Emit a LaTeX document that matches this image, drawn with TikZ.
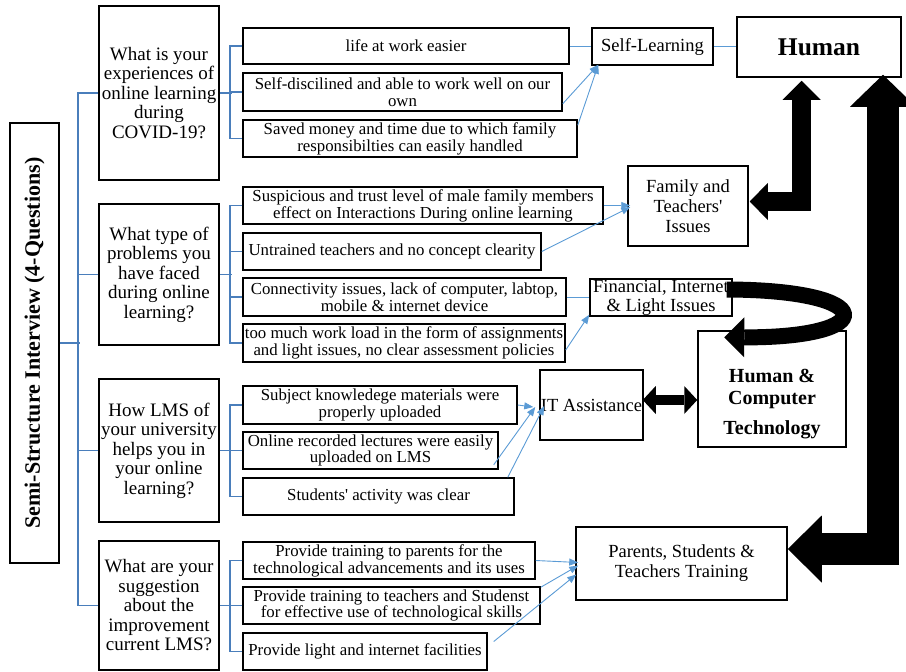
\documentclass[tikz,border=0pt]{standalone}
\usepackage{fontspec}
\setmainfont{Liberation Serif}
\usetikzlibrary{arrows.meta}
\definecolor{treeblue}{RGB}{74,126,187}
\definecolor{linkblue}{RGB}{91,155,213}
\begin{document}
\begin{tikzpicture}[x=1pt,y=-1pt,
  box/.style={draw=black, line width=1.5pt, inner sep=0pt, align=center, text=black},
  qbox/.style={box, font=\fontsize{19}{19.5}\selectfont},
  abox/.style={box, font=\fontsize{16.8}{16.8}\selectfont},
  cbox/.style={box, font=\fontsize{18.5}{20}\selectfont},
  tree/.style={draw=treeblue, line width=1.6pt},
  link/.style={draw=linkblue, line width=0.9pt},
  linkarr/.style={link, -{Triangle[length=9pt,width=7pt]}},
  bigarr/.style={draw=black, line join=miter, line cap=butt}
]
\useasboundingbox (0,0) rectangle (906,672);

% title
\node[box, minimum width=49pt, minimum height=440pt] (title) at (34.5,343) {};
\node[rotate=90, font=\bfseries\fontsize{22}{24}\selectfont] (titletext) at (title.center) {Semi-Structure Interview (4-Questions)};

% questions
\node[qbox, minimum width=120pt, minimum height=174pt] (Q1) at (159,93) {What is your\\experiences of\\online learning\\during\\COVID-19?};
\node[qbox, minimum width=120pt, minimum height=141pt] (Q2) at (159,274.5) {What type of\\problems you\\have faced\\during online\\learning?};
\node[qbox, minimum width=120pt, minimum height=143pt] (Q3) at (159,450.5) {How LMS of\\your university\\helps you in\\your online\\learning?};
\node[qbox, minimum width=120pt, minimum height=129pt] (Q4) at (159,605.5) {What are your\\suggestion\\about the\\improvement\\current LMS?};

% answers
\node[abox, minimum width=326pt, minimum height=36pt] (A1) at (406,46) {life at work easier};
\node[abox, minimum width=319pt, minimum height=38pt] (A2) at (402.5,92) {Self-discilined and able to work well on our\\own};
\node[abox, minimum width=334pt, minimum height=37pt] (A3) at (410,138.5) {Saved money and time due to which family\\responsibilties can easily handled};
\node[abox, minimum width=360pt, minimum height=37pt] (B1) at (423,205.5) {Suspicious and trust level of male family members\\effect on Interactions During online learning};
\node[abox, minimum width=298pt, minimum height=37pt] (B2) at (392,251.5) {Untrained teachers and no concept clearity};
\node[abox, minimum width=323pt, minimum height=38pt] (B3) at (404.5,297) {Connectivity issues, lack of computer, labtop,\\mobile \& internet device};
\node[abox, minimum width=322pt, minimum height=38pt] (B4) at (404,343) {too much work load in the form of assignments\\and light issues, no clear assessment policies};
\node[abox, minimum width=274pt, minimum height=38pt] (C1) at (380,405) {Subject knowledege materials were\\properly uploaded};
\node[abox, minimum width=255pt, minimum height=37pt] (C2) at (370.5,450.5) {Online recorded lectures were easily\\uploaded on LMS};
\node[abox, minimum width=271pt, minimum height=37pt] (C3) at (378.5,496.5) {Students\textquotesingle\ activity was clear};
\node[abox, minimum width=292pt, minimum height=37pt] (D1) at (389,560.5) {Provide training to parents for the\\technological advancements and its uses};
\node[abox, minimum width=297pt, minimum height=37pt] (D2) at (391.5,605.5) {Provide training to teachers and Studenst\\for effective use of technological skills};
\node[abox, minimum width=244pt, minimum height=37pt] (D3) at (365,651.5) {Provide light and internet facilities};

% categories
\node[cbox, minimum width=121pt, minimum height=37pt] (SL) at (652.5,46.5) {Self-Learning};
\node[box, minimum width=164pt, minimum height=60pt, font=\bfseries\fontsize{25.5}{27}\selectfont] (Human) at (819,47) {Human};
\node[cbox, minimum width=120pt, minimum height=80pt] (Fam) at (688,206) {Family and\\Teachers\textquotesingle\\Issues};
\node[cbox, minimum width=142pt, minimum height=37pt, font=\fontsize{18.5}{19}\selectfont] (Fin) at (661,297.5) {Financial, Internet\\\& Light Issues};
\node[cbox, minimum width=103pt, minimum height=70pt] (IT) at (591.5,405) {IT Assistance};
\node[box, minimum width=148pt, minimum height=116pt] (HCT) at (772,389) {};
\node[align=center, font=\bfseries\fontsize{20}{22}\selectfont] (HCTt) at (772,404) {Human \&\\Computer\\[8pt]Technology};
\node[cbox, minimum width=211pt, minimum height=73pt] (PST) at (681.5,563.5) {Parents, Students \&\\Teachers Training};

% main tree
\draw[tree] (title.east) -- ++(20,0);
\draw[tree] (Q1.west) -- ++(-20,0) |- (Q4.west);
\draw[tree] (Q2.west) -- ++(-20,0);
\draw[tree] (Q3.west) -- ++(-20,0);

% answer trees
\draw[tree] (Q1.east) -- ++(12,0);
\draw[tree] (A1.west) -- ++(-12,0) |- (A3.west);
\draw[tree] (A2.west) -- ++(-12,0);
\draw[tree] (Q2.east) -- ++(12,0);
\draw[tree] (B1.west) -- ++(-12,0) |- (B4.west);
\draw[tree] (B2.west) -- ++(-12,0);
\draw[tree] (B3.west) -- ++(-12,0);
\draw[tree] (Q3.east) -- ++(12,0);
\draw[tree] (C1.west) -- ++(-12,0) |- (C3.west);
\draw[tree] (C2.west) -- ++(-12,0);
\draw[tree] (Q4.east) -- ++(12,0);
\draw[tree] (D1.west) -- ++(-12,0) |- (D3.west);
\draw[tree] (D2.west) -- ++(-12,0);

% links to categories
\draw[link] (A1.east) -- (A1.east -| SL.west);
\draw[link] (SL.east) -- (SL.east -| Human.west);
\draw[linkarr] ([yshift=8pt]A2.south east) -- ([xshift=7pt,yshift=1pt]SL.south west);
\draw[linkarr] ([yshift=-6pt]A3.north east) -- ([xshift=7pt,yshift=1pt]SL.south west);
\draw[linkarr] (B1.east) -- ([xshift=3pt]B1.east -| Fam.west);
\draw[linkarr] (B2.east) -- ([xshift=3pt,yshift=-1pt]Fam.west);
\draw[link] (B3.east) -- (B3.east -| Fin.west);
\draw[linkarr] ([yshift=-7pt]B4.east) -- ([yshift=2pt]Fin.south west);
\draw[linkarr] (C1.east) -- ([xshift=-6pt,yshift=-2pt]IT.west);
\draw[linkarr] ([xshift=-5pt,yshift=5pt]C2.south east) -- ([xshift=-4pt,yshift=-2pt]IT.west);
\draw[linkarr] ([xshift=-7pt]C3.north east) -- ([xshift=5pt,yshift=-1pt]IT.west);
\draw[linkarr] (D1.east) -- ([xshift=3pt,yshift=1pt]PST.west);
\draw[linkarr] ([yshift=-1pt]D2.north east) -- ([xshift=3pt,yshift=-2pt]PST.west);
\draw[linkarr] ([xshift=6pt,yshift=10pt]D3.east) -- ([xshift=1pt,yshift=-11pt]PST.west);

% big black arrows
\draw[bigarr, line width=19pt, {Triangle[length=19pt,width=38pt,line width=0pt]}-{Triangle[length=18pt,width=37pt,line width=0pt]}]
  ([xshift=-17.5pt,yshift=-3pt]Human.south) |- ([xshift=1pt,yshift=4.5pt]Fam.east);
\draw[bigarr, line width=32pt, {Triangle[length=32pt,width=66pt,line width=0pt]}-{Triangle[length=34pt,width=67pt,line width=0pt]}]
  ([xshift=64pt,yshift=3pt]Human.south) |- ([yshift=14.5pt]PST.east);
\draw[bigarr, line width=16pt, -{Triangle[length=20pt,width=40pt,line width=0pt]}]
  ([xshift=-6pt,yshift=8pt]Fin.east) .. controls (880,290) and (880,338) .. ([xshift=27pt,yshift=-7pt]HCT.north west);
\draw[bigarr, line width=10pt, {Triangle[length=13pt,width=28pt,line width=0pt]}-{Triangle[length=13pt,width=28pt,line width=0pt]}]
  ([xshift=-1pt,yshift=5pt]IT.east) -- ([yshift=5pt]IT.east -| HCT.west);
\end{tikzpicture}
\end{document}
